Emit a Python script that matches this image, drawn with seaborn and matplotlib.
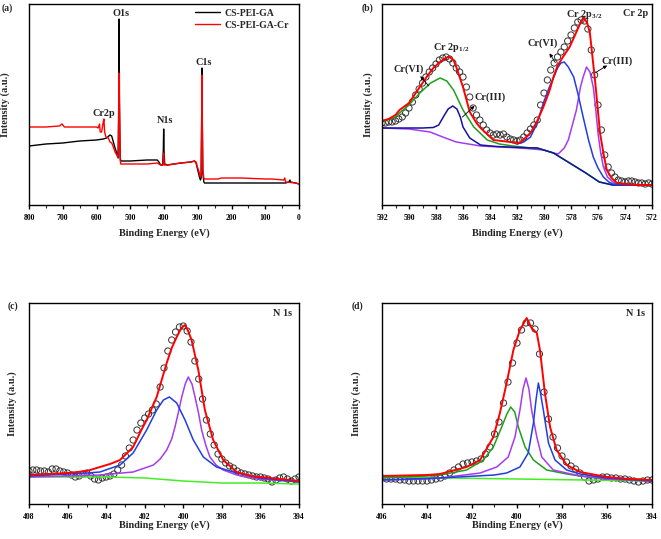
import matplotlib
matplotlib.use('Agg')
import matplotlib.pyplot as plt
import seaborn as sns
from matplotlib.ticker import MultipleLocator

# ---------------- (a) survey spectra ----------------
survey_ga_x = [800, 750, 700, 650, 600, 580, 570, 560, 555, 550, 545, 540, 536, 534, 533, 532, 530, 528,
               500, 450, 420, 415, 410, 404, 402, 401, 400, 398, 390, 350, 320, 310, 305, 300, 295, 292,
               290, 288, 287.5, 287, 285, 282, 280, 200, 100, 40, 30, 27, 25, 10, 0]
survey_ga_y = [59, 61, 62, 64, 65, 66, 67, 70, 69, 63, 57, 52, 47, 105, 186, 105, 48, 44,
               44, 45, 45, 43, 40, 40, 55, 76, 55, 41, 40, 42, 43, 44, 42, 35, 28, 25,
               27, 105, 137, 105, 32, 23, 22, 22, 22, 22, 23, 25, 23, 22, 21]

survey_cr_x = [800, 750, 710, 702, 695, 650, 600, 595, 591, 589, 585, 580, 578, 576, 572, 565, 560, 555,
               550, 545, 540, 537, 535, 534, 533, 532, 530, 528, 500, 450, 420, 415, 410, 403, 401, 399,
               390, 350, 320, 310, 305, 300, 295, 292, 290, 288, 287.5, 287, 285, 282, 280, 240, 230,
               170, 100, 80, 45, 42, 40, 10, 0]
survey_cr_y = [78, 78, 79, 81, 78, 78, 78, 77, 81, 73, 73, 83, 86, 73, 68, 67, 63, 62,
               58, 53, 50, 48, 58, 100, 132, 100, 45, 41, 41, 41, 42, 41, 40, 40, 52, 40,
               40, 42, 43, 44, 43, 37, 32, 28, 30, 95, 130, 95, 35, 27, 26, 26, 27,
               27, 26, 26, 25, 27, 23, 22, 21]

# ---------------- (b) Cr 2p ----------------
cr_raw_x = [592 - 0.25 * i for i in range(81)]
cr_raw_y = [82, 82, 83, 83, 84, 86, 88, 92, 97, 103, 110, 116, 122, 128, 133, 137,
            141, 145, 147, 148, 146, 142, 137, 133, 128, 118, 108, 97, 90, 85, 80, 75,
            72, 70, 71, 70, 71, 68, 66, 65, 64, 65, 68, 72, 76, 80, 85, 100,
            112, 125, 135, 142, 148, 153, 158, 164, 170, 177, 183, 185, 184, 176, 155, 130,
            100, 75, 50, 38, 32, 28, 25, 24, 23, 24, 24, 23, 22, 22, 21, 22, 21]

cr_fit_x = [592, 591.5, 591, 590.7, 590, 589.7, 589.2, 588.7, 588.2, 587.7, 587.3, 587.0, 586.7, 586.5,
            586.0, 585.5, 585.0, 584.7, 583.75, 582.5, 581.8, 581.0, 580.5, 580.05, 579.6, 579.3, 579.0,
            578.6, 578.1, 577.6, 577.3, 577.04, 576.8, 576.6, 576.2, 575.85, 575.6, 575.35, 575.0,
            574.6, 574.0, 573.0, 572.0]
cr_fit_y = [84, 86, 90, 95, 102, 108, 118, 128, 137, 143, 147, 148, 145, 138,
            118, 93, 82, 77, 65, 63, 62, 72, 84, 98, 114, 128, 139,
            148, 158, 173, 182, 187, 182, 172, 122, 72, 52, 35, 27,
            22, 21, 20, 20]

cr6_half_x = [592, 591, 590.7, 590, 589.2, 588.4, 587.7, 587.2, 586.7, 586.0, 585.2, 584.2, 583.3, 582.3,
              581.0, 580.5, 579.3, 578.1, 576.9, 575.9, 574.9, 572]
cr6_half_y = [83, 88, 92, 100, 112, 122, 127, 124, 115, 95, 78, 65, 61, 59,
              57, 57, 52, 42, 32, 23, 20, 20]

cr3_half_x = [592, 589, 588.2, 587.8, 587.46, 587.1, 586.76, 586.45, 586.2, 586.0, 585.5, 584.7, 583.5,
              581.8, 580.5, 579.3, 578.1, 576.9, 575.9, 574.9, 572]
cr3_half_y = [77, 77, 77.5, 80, 88, 96, 99, 96, 88, 78, 67, 60, 58.5,
              57.5, 57, 52, 42, 32, 23, 20, 20]

cr3_three_x = [592, 590, 588.44, 587.5, 586.5, 584.7, 581.8, 580, 579.3, 578.95, 578.5, 578.2, 577.9,
               577.6, 577.3, 577.1, 576.85, 576.6, 576.35, 576.2, 576.0, 575.8, 575.6, 575.3, 574.9,
               574.5, 572]
cr3_three_y = [77, 76, 73, 68, 63, 59, 57, 55, 52, 51, 57, 65, 80,
               95, 118, 128, 138, 133, 118, 100, 72, 52, 38, 28, 23,
               20, 20]

cr6_three_x = [582.0, 581.5, 581, 580.5, 580.05, 579.6, 579.3, 579.0, 578.75, 578.5, 578.2, 577.8, 577.5,
               577.1, 576.7, 576.35, 576.0, 575.6, 575.2, 574.9, 574.0, 572]
cr6_three_y = [61, 63, 68, 82, 102, 118, 127, 137, 142, 143, 138, 128, 112,
               88, 65, 48, 37, 28, 23, 21, 20, 20]

# ---------------- (c) N 1s, CS-PEI-GA ----------------
n1_raw_x = [408 - 0.2 * i for i in range(71)]
n1_raw_y = [33, 34, 34, 33, 33, 32, 35, 35, 33, 32, 31, 29, 27, 28, 30, 31, 28, 25, 24, 26,
            27, 28, 30, 34, 39, 48, 56, 64, 74, 81, 86, 90, 94, 100, 117, 136, 153, 164, 172, 177,
            178, 173, 162, 143, 125, 105, 84, 70, 59, 50, 45, 41, 38, 36, 33, 31, 30, 29, 28, 27,
            27, 26, 25, 22, 24, 26, 27, 25, 23, 25, 27]

n1_fit_x = [408, 407, 406, 405, 404.32, 403.8, 403.28, 402.6, 402.2, 401.9, 401.38, 400.86, 400.6, 400.34,
            400.1, 399.91, 399.75, 399.57, 399.22, 398.88, 398.45, 397.93, 397.23, 396.5, 396, 395, 394]
n1_fit_y = [29, 30, 31, 33, 37, 40, 44, 57, 73, 84, 107, 141, 156, 167,
            176, 179, 173, 164, 134, 94, 64, 44, 32, 28, 27, 25, 23]

n1_blue_x = [408, 406, 405, 404.32, 403.28, 402.6, 401.9, 401.38, 401.03, 400.72, 400.34, 399.91, 399.48,
             398.96, 398.28, 397.23, 396, 395, 394]
n1_blue_y = [28, 30, 31, 32, 39, 51, 74, 94, 104, 107, 101, 84, 64,
             47, 37, 31, 26, 24, 22]

n1_purple_x = [408, 406, 404.32, 402.6, 401.55, 401.2, 400.86, 400.6, 400.43, 400.25, 400.08, 399.9,
               399.74, 399.55, 399.39, 399.2, 399.05, 398.82, 398.62, 398.3, 397.93, 397.23, 396, 394]
n1_purple_y = [27, 28, 29, 32, 39, 45, 54, 65, 77, 92, 107, 120,
               127, 120, 107, 90, 74, 58, 47, 39, 34, 29, 25, 22]

n1_base_x = [408, 404, 402, 400, 398, 396, 394]
n1_base_y = [27, 27, 26, 23, 21, 21, 20]

# ---------------- (d) N 1s, CS-PEI-GA-Cr ----------------
n2_raw_x = [406 - 0.2 * i for i in range(61)]
n2_raw_y = [26, 25, 25, 25, 24, 24, 23, 23, 23, 23, 23, 24, 25, 26, 28, 31, 34, 37, 40, 41,
            42, 43, 45, 50, 57, 70, 82, 101, 122, 141, 161, 174, 181, 181, 175, 150, 112, 85, 67, 56,
            48, 42, 38, 35, 31, 27, 23, 24, 25, 27, 27, 26, 26, 25, 25, 24, 23, 22, 23, 24, 24]

n2_fit_x = [406, 405, 404, 403.42, 402.24, 401.64, 401.05, 400.76, 400.46, 400.16, 399.87, 399.57, 399.35,
            399.12, 398.98, 398.76, 398.53, 398.24, 397.79, 397.2, 396, 395, 394]
n2_fit_y = [28, 28.5, 29, 30, 37, 44, 67, 91, 121, 154, 174, 186, 176,
            171, 154, 111, 77, 54, 39, 32, 27, 25, 24]

n2_green_x = [406, 405, 404, 403.42, 402.24, 401.5, 401.05, 400.68, 400.45, 400.28, 400.1, 399.94, 399.64,
              399.27, 398.68, 397.79, 397.2, 396, 394]
n2_green_y = [26, 27, 28, 29, 34, 44, 57, 77, 90, 97, 92, 77, 57,
              44, 34, 30, 28, 25, 23]

n2_purple_x = [406, 404, 403.42, 401.64, 400.9, 400.39, 400.09, 399.87, 399.73, 399.6, 399.47, 399.35,
               399.12, 398.9, 398.39, 397.2, 396, 394]
n2_purple_y = [24, 25, 26, 31, 37, 47, 67, 94, 115, 126, 115, 94,
               67, 47, 34, 28, 25, 23]

n2_blue_x = [406, 403.42, 401, 400.46, 399.87, 399.5, 399.27, 399.15, 399.05, 398.95, 398.83, 398.6,
             398.31, 397.79, 397.2, 396, 394]
n2_blue_y = [24, 26, 29, 31, 37, 51, 81, 105, 121, 110, 94, 61,
             44, 34, 30, 26, 23]

n2_base_x = [406, 400, 394]
n2_base_y = [27, 25, 23]

# ---------------- style ----------------
sns.set_theme(style='ticks')
plt.rcParams['font.family'] = ['Liberation Serif', 'DejaVu Serif']
plt.rcParams['font.weight'] = 'bold'
plt.rcParams['axes.labelweight'] = 'bold'
plt.rcParams['mathtext.fontset'] = 'custom'
plt.rcParams['mathtext.rm'] = 'Liberation Serif:bold'
plt.rcParams['mathtext.it'] = 'Liberation Serif:bold'
plt.rcParams['mathtext.bf'] = 'Liberation Serif:bold'

W, H = 661, 539
RED = '#ff0000'
BLUE = '#1f3fe0'
NAVY = '#14149c'
PURPLE = '#a43cf0'
GREEN = '#1ea01e'
LIME = '#44ee22'


def line(ax, x, y, color, lw=1.1):
    sns.lineplot(x=x, y=y, ax=ax, color=color, linewidth=lw, estimator=None, sort=False, legend=False)


def circles(ax, x, y):
    # open circles for the measured points
    sns.scatterplot(x=x, y=y, ax=ax, marker='o', s=20, facecolor='none',
                    edgecolor='#333333', linewidth=0.7, legend=False, zorder=2)


def style_axes(ax, xlim, major, minor, ylab_x, xlab_y):
    ax.set_xlim(xlim)
    ax.set_ylim(0, 201)
    ax.set_yticks([])
    ax.xaxis.set_major_locator(MultipleLocator(major))
    ax.xaxis.set_minor_locator(MultipleLocator(minor))
    ax.tick_params(axis='x', which='major', direction='out', length=3, width=1,
                   labelsize=5.6, pad=3.6, colors='black')
    ax.tick_params(axis='x', which='minor', direction='out', length=2, width=0.8)
    for lab in ax.get_xticklabels():
        lab.set_fontweight('bold')
    for sp in ax.spines.values():
        sp.set_visible(True)
        sp.set_linewidth(1.0)
        sp.set_color('black')
    ax.set_xlabel('Binding Energy (eV)', fontsize=7.4)
    ax.set_ylabel('Intensity (a.u.)', fontsize=7.4)
    ax.yaxis.set_label_coords(ylab_x, 0.5)
    ax.xaxis.set_label_coords(0.5, xlab_y)


def add_axes(fig, px_left, px_top):
    return fig.add_axes([px_left / W, 1 - (px_top + 201) / H, 270 / W, 201 / H])


fig = plt.figure(figsize=(W / 100, H / 100), dpi=100)
ax_a = add_axes(fig, 29, 4)
ax_b = add_axes(fig, 382, 4)
ax_c = add_axes(fig, 29, 303)
ax_d = add_axes(fig, 382, 303)

# (a)
line(ax_a, survey_ga_x, survey_ga_y, 'black', 1.0)
line(ax_a, survey_cr_x, survey_cr_y, RED, 1.0)
style_axes(ax_a, (800, 0), 100, 50, -0.07, -0.114)
ax_a.legend(handles=ax_a.get_lines()[:2], labels=['CS-PEI-GA', 'CS-PEI-GA-Cr'],
            loc='upper left', bbox_to_anchor=(0.6, 0.995), frameon=False, fontsize=7,
            handlelength=2.6, handletextpad=0.4, labelspacing=0.3, borderaxespad=0)
for txt, ex, ey in [('O1s', 527, 192), ('Cr2p', 579, 92), ('N1s', 397, 85), ('C1s', 281.5, 143)]:
    ax_a.text(ex, ey, txt, fontsize=7.4, ha='center', va='center')

# (b)
circles(ax_b, cr_raw_x, cr_raw_y)
line(ax_b, cr3_three_x, cr3_three_y, PURPLE)
line(ax_b, cr6_half_x, cr6_half_y, GREEN)
line(ax_b, cr3_half_x, cr3_half_y, NAVY)
line(ax_b, cr6_three_x, cr6_three_y, BLUE)
line(ax_b, cr_fit_x, cr_fit_y, RED, 1.4)
style_axes(ax_b, (592, 572), 2, 1, -0.033, -0.114)
ax_b.text(586.9, 158, 'Cr 2p$_{1/2}$', fontsize=7.4, ha='center', va='center')
ax_b.text(577.0, 191, 'Cr 2p$_{3/2}$', fontsize=7.4, ha='center', va='center')
ax_b.text(573.2, 192, 'Cr 2p', fontsize=7.4, ha='center', va='center')
for txt, tx, ty, head, tail in [('Cr(VI)', 590.0, 136, (589.3, 131), (588.4, 117)),
                                ('Cr(III)', 584.0, 108, (585.0, 101), (586.2, 86)),
                                ('Cr(VI)', 580.1, 162, (579.7, 154), (579.05, 140)),
                                ('Cr(III)', 574.6, 144, (575.15, 141), (576.35, 131))]:
    ax_b.text(tx, ty, txt, fontsize=7.4, ha='center', va='center')
    ax_b.annotate('', xy=head, xytext=tail,
                  arrowprops=dict(arrowstyle='-|>', color='black', lw=0.6, mutation_scale=5))

# (c)
circles(ax_c, n1_raw_x, n1_raw_y)
line(ax_c, n1_base_x, n1_base_y, LIME)
line(ax_c, n1_purple_x, n1_purple_y, PURPLE)
line(ax_c, n1_blue_x, n1_blue_y, BLUE)
line(ax_c, n1_fit_x, n1_fit_y, RED, 1.4)
style_axes(ax_c, (408, 394), 2, 1, -0.044, -0.08)
ax_c.text(0.975, 0.95, 'N 1s', transform=ax_c.transAxes, fontsize=7.4, ha='right', va='center')

# (d)
circles(ax_d, n2_raw_x, n2_raw_y)
line(ax_d, n2_base_x, n2_base_y, LIME)
line(ax_d, n2_green_x, n2_green_y, GREEN)
line(ax_d, n2_purple_x, n2_purple_y, PURPLE)
line(ax_d, n2_blue_x, n2_blue_y, BLUE)
line(ax_d, n2_fit_x, n2_fit_y, RED, 1.4)
style_axes(ax_d, (406, 394), 2, 1, -0.078, -0.08)
ax_d.text(0.975, 0.95, 'N 1s', transform=ax_d.transAxes, fontsize=7.4, ha='right', va='center')

# panel letters
for txt, px, py in [('(a)', 2, 8), ('(b)', 362, 8), ('(c)', 8, 306), ('(d)', 352, 306)]:
    fig.text(px / W, 1 - py / H, txt, fontsize=7, ha='left', va='center')

fig.savefig('out.png', dpi=100)
